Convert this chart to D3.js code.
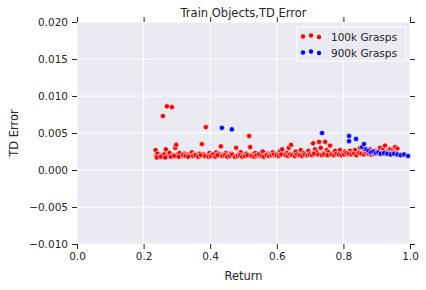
<!DOCTYPE html>
<html>
<head>
<meta charset="utf-8">
<title>Train Objects, TD Error</title>
<script src="https://d3js.org/d3.v7.min.js"></script>
<style>
  body { margin: 0; background: #fff; font-family: 'DejaVu Sans', sans-serif; }
  text { fill: #262626; }
</style>
</head>
<body>
<div id="chart"></div>
<script>
// ******* Data *******
const red100k = [
  [0.236,0.0027],[0.238,0.0019],[0.242,0.0022],[0.248,0.0018],[0.255,0.0020],
  [0.258,0.0073],[0.262,0.0021],[0.267,0.0028],[0.270,0.0086],[0.272,0.0019],
  [0.278,0.0023],[0.285,0.0085],[0.288,0.0020],[0.295,0.0030],[0.298,0.0034],
  [0.302,0.0021],[0.308,0.0023],[0.315,0.0019],[0.322,0.0022],[0.330,0.0021],
  [0.338,0.0020],[0.345,0.0024],[0.352,0.0021],[0.360,0.0019],[0.368,0.0022],
  [0.375,0.0035],[0.380,0.0021],[0.387,0.0058],[0.392,0.0020],[0.398,0.0023],
  [0.405,0.0021],[0.412,0.0019],[0.418,0.0024],[0.425,0.0022],[0.432,0.0032],
  [0.440,0.0021],[0.447,0.0023],[0.455,0.0020],[0.462,0.0022],[0.470,0.0019],
  [0.478,0.0030],[0.485,0.0021],[0.492,0.0024],[0.500,0.0020],[0.508,0.0022],
  [0.517,0.0046],[0.520,0.0031],[0.528,0.0021],[0.535,0.0023],[0.542,0.0019],
  [0.550,0.0022],[0.558,0.0025],[0.565,0.0020],[0.572,0.0022],[0.580,0.0021],
  [0.588,0.0024],[0.595,0.0019],[0.602,0.0022],[0.610,0.0026],[0.616,0.0028],
  [0.622,0.0021],[0.630,0.0023],[0.636,0.0030],[0.643,0.0034],[0.650,0.0022],
  [0.657,0.0025],[0.665,0.0021],[0.672,0.0027],[0.680,0.0023],[0.688,0.0020],
  [0.695,0.0026],[0.702,0.0022],[0.709,0.0036],[0.715,0.0028],[0.720,0.0024],
  [0.727,0.0038],[0.732,0.0030],[0.738,0.0022],[0.745,0.0038],[0.750,0.0027],
  [0.755,0.0024],[0.760,0.0033],[0.768,0.0022],[0.775,0.0026],[0.782,0.0021],
  [0.790,0.0027],[0.798,0.0023],[0.805,0.0025],[0.812,0.0021],[0.820,0.0026],
  [0.828,0.0023],[0.835,0.0027],[0.842,0.0022],[0.850,0.0030],[0.858,0.0024],
  [0.865,0.0026],[0.872,0.0022],[0.880,0.0028],[0.888,0.0024],[0.895,0.0026],
  [0.902,0.0023],[0.910,0.0030],[0.918,0.0027],[0.925,0.0033],[0.932,0.0025],
  [0.940,0.0028],[0.948,0.0026],[0.955,0.0031],[0.962,0.0029],
  // dense lower band
  [0.240,0.0017],[0.252,0.0018],[0.265,0.0017],[0.282,0.0018],[0.292,0.0019],
  [0.305,0.0018],[0.318,0.0020],[0.326,0.0019],[0.334,0.0018],[0.348,0.0019],
  [0.356,0.0020],[0.364,0.0018],[0.372,0.0020],[0.384,0.0019],[0.395,0.0018],
  [0.402,0.0019],[0.409,0.0021],[0.415,0.0018],[0.422,0.0020],[0.436,0.0019],
  [0.444,0.0020],[0.451,0.0018],[0.459,0.0019],[0.466,0.0021],[0.474,0.0018],
  [0.482,0.0019],[0.489,0.0020],[0.496,0.0018],[0.504,0.0019],[0.512,0.0020],
  [0.524,0.0019],[0.532,0.0018],[0.539,0.0020],[0.546,0.0021],[0.554,0.0019],
  [0.561,0.0018],[0.569,0.0020],[0.576,0.0019],[0.584,0.0020],[0.591,0.0021],
  [0.599,0.0020],[0.606,0.0019],[0.613,0.0021],[0.626,0.0020],[0.633,0.0019],
  [0.640,0.0021],[0.646,0.0020],[0.654,0.0019],[0.661,0.0021],[0.668,0.0020],
  [0.676,0.0019],[0.684,0.0021],[0.692,0.0020],[0.699,0.0021],[0.706,0.0020],
  [0.712,0.0022],[0.724,0.0021],[0.735,0.0020],[0.742,0.0021],[0.752,0.0020],
  [0.764,0.0021],[0.772,0.0020],[0.779,0.0022],[0.786,0.0021],[0.794,0.0020],
  [0.802,0.0021],[0.809,0.0023],[0.816,0.0022],[0.824,0.0021],[0.832,0.0022],
  [0.839,0.0020],[0.846,0.0023],[0.854,0.0022],[0.862,0.0021],[0.869,0.0023],
  [0.876,0.0022],[0.884,0.0021],[0.892,0.0022],[0.906,0.0022],[0.914,0.0023],
  [0.922,0.0022],[0.936,0.0023],[0.944,0.0022],[0.952,0.0024],[0.958,0.0023]
];
const blue900k = [
  [0.435,0.0057],[0.465,0.0055],[0.736,0.0050],[0.817,0.0046],[0.817,0.0039],
  [0.838,0.0042],[0.856,0.0031],[0.862,0.0035],[0.868,0.0028],[0.875,0.0026],
  [0.882,0.0024],[0.890,0.0025],[0.898,0.0023],[0.905,0.0024],[0.912,0.0022],
  [0.922,0.0023],[0.932,0.0022],[0.942,0.0021],[0.952,0.0022],[0.962,0.0021],
  [0.972,0.0020],[0.982,0.0021],[0.994,0.0019]
];
const xTicks = [0.0, 0.2, 0.4, 0.6, 0.8, 1.0];
const yTicks = [-0.010, -0.005, 0.000, 0.005, 0.010, 0.015, 0.020];
const seriesNames = ["100k Grasps", "900k Grasps"];
const seriesColors = ["#ff0000", "#0000ff"];

// ******* Layout *******
const width = 426, height = 290;
const margin = {top: 22, right: 16, bottom: 46, left: 77};
const innerW = width - margin.left - margin.right,
      innerH = height - margin.top - margin.bottom;

const x = d3.scaleLinear().domain([0, 1]).range([0, innerW]);
const y = d3.scaleLinear().domain([-0.010, 0.020]).range([innerH, 0]);

const svg = d3.select("#chart").append("svg")
    .attr("width", width)
    .attr("height", height);

const g = svg.append("g")
    .attr("transform", `translate(${margin.left},${margin.top})`);

// background
g.append("rect")
    .attr("width", innerW)
    .attr("height", innerH)
    .attr("fill", "#eaeaf2");

// grid
g.selectAll(".vgrid").data(xTicks).enter().append("line")
    .attr("x1", d => x(d)).attr("x2", d => x(d))
    .attr("y1", 0).attr("y2", innerH)
    .attr("stroke", "#fff").attr("stroke-width", 1);
g.selectAll(".hgrid").data(yTicks).enter().append("line")
    .attr("y1", d => y(d)).attr("y2", d => y(d))
    .attr("x1", 0).attr("x2", innerW)
    .attr("stroke", "#fff").attr("stroke-width", 1);

// axes with outward ticks on all sides
function styleAxis(sel) {
  sel.select(".domain").remove();
  sel.selectAll(".tick line").attr("stroke", "#262626");
  sel.selectAll(".tick text")
      .attr("font-family", "'DejaVu Sans', sans-serif")
      .attr("font-size", 10.5)
      .attr("fill", "#262626");
}
const fmtY = d => d3.format(".3f")(d).replace("-", "\u2212");

g.append("g").attr("transform", `translate(0,${innerH})`)
    .call(d3.axisBottom(x).tickValues(xTicks).tickFormat(d3.format(".1f")).tickSize(5).tickPadding(4))
    .call(styleAxis);
g.append("g")
    .call(d3.axisLeft(y).tickValues(yTicks).tickFormat(fmtY).tickSize(5).tickPadding(4))
    .call(styleAxis);
g.append("g")
    .call(d3.axisTop(x).tickValues(xTicks).tickFormat("").tickSize(5))
    .call(styleAxis);
g.append("g").attr("transform", `translate(${innerW},0)`)
    .call(d3.axisRight(y).tickValues(yTicks).tickFormat("").tickSize(5))
    .call(styleAxis);

// points
[red100k, blue900k].forEach((series, i) => {
  g.append("g").selectAll("circle")
      .data(series).enter().append("circle")
      .attr("cx", d => x(d[0]))
      .attr("cy", d => y(d[1]))
      .attr("r", 2.6)
      .attr("fill", seriesColors[i])
      .attr("stroke", "#fff")
      .attr("stroke-width", 0.6);
});

// title and labels
svg.append("text")
    .attr("x", margin.left + innerW / 2).attr("y", 17)
    .attr("text-anchor", "middle").attr("font-size", 11.5)
    .text("Train Objects,TD Error");
svg.append("text")
    .attr("x", margin.left + innerW / 2).attr("y", 280)
    .attr("text-anchor", "middle").attr("font-size", 11.5)
    .text("Return");
svg.append("text")
    .attr("transform", `translate(18,${margin.top + innerH / 2}) rotate(-90)`)
    .attr("text-anchor", "middle").attr("font-size", 11.5)
    .text("TD Error");

// legend
const legend = svg.append("g").attr("transform", "translate(297,27)");
legend.append("rect")
    .attr("width", 109).attr("height", 34)
    .attr("fill", "#eaeaf2")
    .attr("stroke", "#fff").attr("stroke-width", 1);
const dotOffsets = [[6, 9.5], [14, 8.5], [22, 10]];
seriesNames.forEach((name, i) => {
  const row = legend.append("g").attr("transform", `translate(0,${i * 16})`);
  dotOffsets.forEach(o => {
    row.append("circle")
        .attr("cx", o[0]).attr("cy", o[1]).attr("r", 2.2)
        .attr("fill", seriesColors[i]);
  });
  row.append("text")
      .attr("x", 34).attr("y", 13.5)
      .attr("font-size", 10.5)
      .text(name);
});
</script>
</body>
</html>
